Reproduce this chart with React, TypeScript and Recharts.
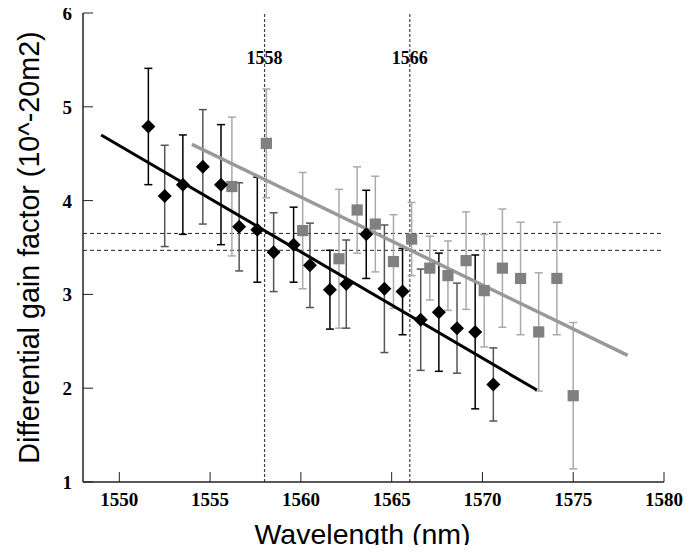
import React from 'react';
import { ComposedChart, XAxis, YAxis, Scatter, ErrorBar, ReferenceLine, Label } from 'recharts';

// Black diamonds (series 1)
const diamondX = [1551.6, 1552.5, 1553.5, 1554.6, 1555.6, 1556.6, 1557.6, 1558.5, 1559.6, 1560.5, 1561.6, 1562.5, 1563.6, 1564.6, 1565.6, 1566.6, 1567.6, 1568.6, 1569.6, 1570.6];
const diamondY = [4.79, 4.05, 4.17, 4.36, 4.17, 3.72, 3.69, 3.45, 3.53, 3.31, 3.05, 3.11, 3.64, 3.06, 3.03, 2.73, 2.81, 2.64, 2.60, 2.04];
const diamondErr = [0.62, 0.54, 0.53, 0.61, 0.64, 0.47, 0.56, 0.42, 0.40, 0.45, 0.42, 0.47, 0.47, 0.68, 0.46, 0.54, 0.63, 0.48, 0.82, 0.39];

// Gray squares (series 2)
const squareX = [1556.2, 1558.1, 1560.1, 1562.1, 1563.1, 1564.1, 1565.1, 1566.1, 1567.1, 1568.1, 1569.1, 1570.1, 1571.1, 1572.1, 1573.1, 1574.1, 1575.0];
const squareY = [4.15, 4.61, 3.68, 3.38, 3.90, 3.75, 3.35, 3.59, 3.28, 3.20, 3.36, 3.04, 3.28, 3.17, 2.60, 3.17, 1.92];
const squareErr = [0.74, 0.58, 0.62, 0.74, 0.46, 0.51, 0.50, 0.39, 0.34, 0.37, 0.52, 0.60, 0.63, 0.60, 0.63, 0.60, 0.78];

// Linear fits
const fitBlackX = [1549.0, 1573.0];
const fitBlackY = [4.70, 1.98];
const fitGrayX = [1554.0, 1578.0];
const fitGrayY = [4.60, 2.35];

// Reference lines
const refWavelengths = [1558, 1566];
const refGains = [3.65, 3.47];

// Axis ticks
const xTicks = [1550, 1555, 1560, 1565, 1570, 1575, 1580];
const xInnerTicks = [1550, 1555, 1560, 1565, 1570, 1575];
const yTicks = [1, 2, 3, 4, 5, 6];
const yInnerTicks = [2, 3, 4, 5];

const diamondsBlackBar = diamondX
  .map((x, i) => ({ x, y: diamondY[i], err: diamondErr[i], i }))
  .filter((d) => d.i % 2 === 0);
const diamondsGrayBar = diamondX
  .map((x, i) => ({ x, y: diamondY[i], err: diamondErr[i], i }))
  .filter((d) => d.i % 2 === 1);
const squares = squareX.map((x, i) => ({ x, y: squareY[i], err: squareErr[i] }));
const fitBlack = fitBlackX.map((x, i) => ({ x, y: fitBlackY[i] }));
const fitGray = fitGrayX.map((x, i) => ({ x, y: fitGrayY[i] }));

const Diamond = (props: any) => {
  const { cx, cy } = props;
  const r = 7;
  return <path d={`M${cx},${cy - r}L${cx + r},${cy}L${cx},${cy + r}L${cx - r},${cy}Z`} fill="#000" />;
};
const Square = (props: any) => {
  const { cx, cy } = props;
  const s = 5.6;
  return <rect x={cx - s} y={cy - s} width={2 * s} height={2 * s} fill="#808080" />;
};
const NoShape = () => <g />;

const serifFamily = '"Liberation Serif", "DejaVu Serif", serif';

const XTick = (props: any) => {
  const { x, y, payload } = props;
  return (
    <text x={x} y={y + 24} textAnchor="middle" fontSize={19} fontWeight="bold" fontFamily={serifFamily} fill="#000">
      {payload.value}
    </text>
  );
};
const YTick = (props: any) => {
  const { x, y, payload } = props;
  return (
    <text x={x - 11} y={y + 7} textAnchor="end" fontSize={19} fontWeight="bold" fontFamily={serifFamily} fill="#000">
      {payload.value}
    </text>
  );
};
const RefLabel = (props: any) => {
  const { viewBox, value } = props;
  return (
    <text x={viewBox.x} y={viewBox.y + 51} textAnchor="middle" fontSize={18} fontWeight="bold" fontFamily={serifFamily} fill="#000">
      {value}
    </text>
  );
};

const axisStroke = '#222';

export default function App() {
  return (
    <div style={{ margin: -8, width: 691, height: 553 }}>
      <ComposedChart width={691} height={553} margin={{ top: 13, right: 27, bottom: 11, left: 23 }}>
        <XAxis
          xAxisId={0}
          dataKey="x"
          type="number"
          domain={[1548, 1580]}
          ticks={xTicks}
          allowDataOverflow
          height={60}
          tickSize={-10}
          tickMargin={10}
          axisLine={{ stroke: axisStroke, strokeWidth: 1.5 }}
          tickLine={{ stroke: axisStroke, strokeWidth: 1 }}
          tick={<XTick />}
          interval={0}
        >
          <Label
            value="Wavelength (nm)"
            position="center"
            dy={22}
            dx={-11}
            style={{ fontFamily: '"Liberation Sans", Arial, sans-serif', fontSize: 28.5, fill: '#000' }}
          />
        </XAxis>
        <XAxis
          xAxisId="t"
          orientation="top"
          type="number"
          domain={[1548, 1580]}
          ticks={xInnerTicks}
          allowDataOverflow
          height={0}
          tickSize={-10}
          tickFormatter={() => ''}
          axisLine={{ stroke: axisStroke, strokeWidth: 1.5 }}
          tickLine={{ stroke: axisStroke, strokeWidth: 1 }}
          interval={0}
        />
        <YAxis
          yAxisId={0}
          dataKey="y"
          type="number"
          domain={[1, 6]}
          ticks={yTicks}
          allowDataOverflow
          width={60}
          tickSize={-10}
          tickMargin={10}
          axisLine={{ stroke: axisStroke, strokeWidth: 1.5 }}
          tickLine={{ stroke: axisStroke, strokeWidth: 1 }}
          tick={<YTick />}
          interval={0}
        >
          <Label
            value="Differential gain factor (10^-20m2)"
            position="center"
            angle={-90}
            dx={-24}
            style={{ fontFamily: '"Liberation Sans", Arial, sans-serif', fontSize: 28.7, fill: '#000' }}
          />
        </YAxis>
        <YAxis
          yAxisId="r"
          orientation="right"
          type="number"
          domain={[1, 6]}
          ticks={yInnerTicks}
          allowDataOverflow
          width={0}
          tickSize={-10}
          tickFormatter={() => ''}
          axisLine={{ stroke: axisStroke, strokeWidth: 1.5 }}
          tickLine={{ stroke: axisStroke, strokeWidth: 1 }}
          interval={0}
        />

        {refGains.map((g) => (
          <ReferenceLine key={'h' + g} y={g} stroke="#222" strokeWidth={1} strokeDasharray="4 3" />
        ))}
        {refWavelengths.map((w) => (
          <ReferenceLine
            key={'v' + w}
            x={w}
            stroke="#444"
            strokeWidth={1.2}
            strokeDasharray="3 2"
            label={<RefLabel value={String(w)} />}
          />
        ))}

        <Scatter data={fitGray} line={{ stroke: '#999', strokeWidth: 3.5 }} shape={NoShape} isAnimationActive={false} />
        <Scatter data={fitBlack} line={{ stroke: '#000', strokeWidth: 3 }} shape={NoShape} isAnimationActive={false} />

        <Scatter data={squares} shape={Square} isAnimationActive={false}>
          <ErrorBar dataKey="err" direction="y" width={4} stroke="#aaa" strokeWidth={1.5} isAnimationActive={false} />
        </Scatter>
        <Scatter data={diamondsGrayBar} shape={Diamond} isAnimationActive={false}>
          <ErrorBar dataKey="err" direction="y" width={4} stroke="#555" strokeWidth={1.5} isAnimationActive={false} />
        </Scatter>
        <Scatter data={diamondsBlackBar} shape={Diamond} isAnimationActive={false}>
          <ErrorBar dataKey="err" direction="y" width={4} stroke="#000" strokeWidth={1.5} isAnimationActive={false} />
        </Scatter>
      </ComposedChart>
    </div>
  );
}
